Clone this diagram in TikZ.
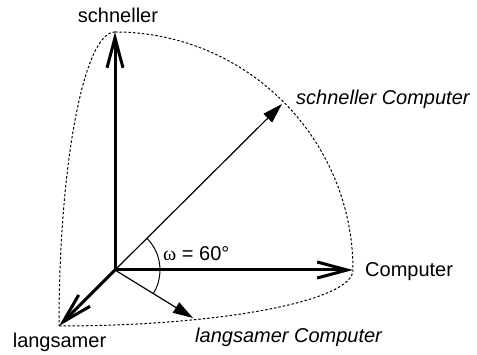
\documentclass[tikz,border=0pt]{standalone}
\usepackage{fontspec}
\setmainfont{Liberation Sans}
\newfontfamily\symfont{Liberation Serif}
\usetikzlibrary{arrows.meta}
\begin{document}
\begin{tikzpicture}[x=1pt,y=1pt,
  axis/.style={line width=3pt,-{Straight Barb[length=30pt,width=16pt]}},
  thinarrow/.style={line width=1.2pt,-{Triangle[length=20pt,width=12pt]}},
  bound/.style={line width=1pt,dash pattern=on 2.5pt off 2pt},
  lbl/.style={font=\fontsize{20}{24}\selectfont,inner sep=0pt},
  ilbl/.style={font=\fontsize{20}{24}\selectfont\itshape,inner sep=0pt}]
\useasboundingbox (0,0) rectangle (477,355);
\coordinate (O) at (115,85);
\coordinate (top) at (115,323);
\coordinate (right) at (353,85);
\coordinate (lang) at (59,29);
\coordinate (sc) at (282,251);
\coordinate (lc) at (193,37);
% dotted boundary curves
\draw[bound] (top) arc[start angle=90,end angle=0,x radius=238pt,y radius=238pt];
\draw[bound] (top) arc[start angle=90,end angle=180,x radius=56pt,y radius=294pt];
\draw[bound] (lang) arc[start angle=270,end angle=360,x radius=294pt,y radius=56pt];
% axes
\draw[axis] (O) -- (top);
\draw[axis] (O) -- (right);
\draw[axis] (O) -- (lang);
% computer vectors
\draw[thinarrow] (O) -- (sc);
\draw[thinarrow] (O) -- (lc);
% angle
\draw[line width=1pt] ([shift={(-31:45pt)}]O) arc[start angle=-31,end angle=45,radius=45pt];
% labels
\node[lbl,anchor=base] (tschnell) at (118,332) {schneller};
\node[lbl,anchor=base west] (tcomp) at (365,78) {Computer};
\node[ilbl,anchor=base west] (tsc) at (296,250) {schneller Computer};
\node[lbl,anchor=base] (tlang) at (59.5,7) {langsamer};
\node[ilbl,anchor=base west] (tlc) at (195,12) {langsamer Computer};
\node[lbl,anchor=base west] (tomega) at (163,94) {{\symfont ω} = 60°};
\end{tikzpicture}
\end{document}
